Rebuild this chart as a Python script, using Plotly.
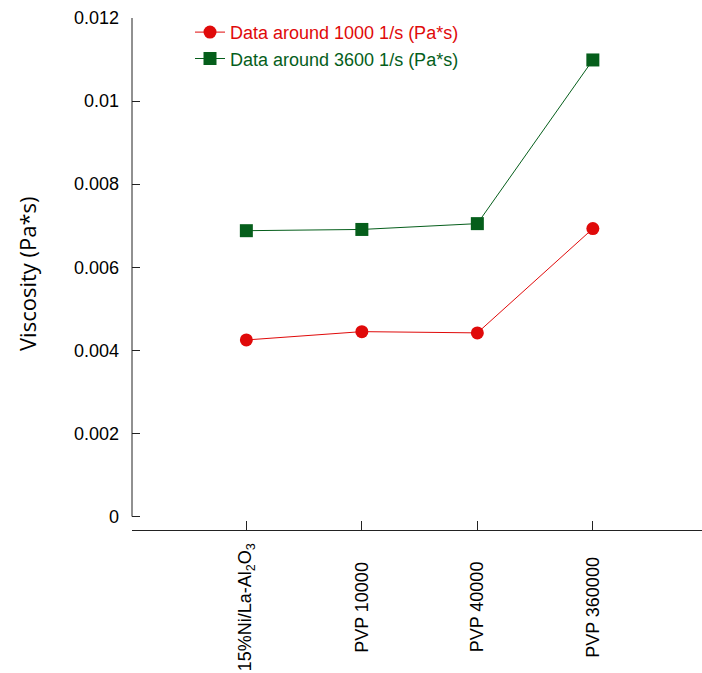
import plotly.graph_objects as go

categories = ["15%Ni/La-Al<sub>2</sub>O<sub>3</sub>", "PVP 10000", "PVP 40000", "PVP 360000"]
x_pos = [0, 1, 2, 3]
visc_1000 = [0.00425, 0.00445, 0.00442, 0.00693]
visc_3600 = [0.00688, 0.00691, 0.00705, 0.01099]
y_ticks = [0, 0.002, 0.004, 0.006, 0.008, 0.01, 0.012]
y_ticktext = ["0", "0.002", "0.004", "0.006", "0.008", "0.01", "0.012"]

RED = "#e00a0a"
GREEN = "#055e1b"
FONT = "Liberation Sans, Arial, sans-serif"

fig = go.Figure()
fig.add_trace(go.Scatter(
    x=x_pos, y=visc_1000, mode="lines+markers",
    name=f'<span style="color:{RED}">Data around 1000 1/s (Pa*s)</span>',
    line=dict(color=RED, width=1),
    marker=dict(symbol="circle", size=13, color=RED),
))
fig.add_trace(go.Scatter(
    x=x_pos, y=visc_3600, mode="lines+markers",
    name=f'<span style="color:{GREEN}">Data around 3600 1/s (Pa*s)</span>',
    line=dict(color=GREEN, width=1),
    marker=dict(symbol="square", size=13, color=GREEN),
))

# category labels, rotated and centred below the axis
for xp, lab in zip(x_pos, categories):
    fig.add_annotation(x=xp, xref="x", y=-0.1504, yref="paper", text=lab,
                       textangle=-90, showarrow=False, xanchor="center", yanchor="middle",
                       font=dict(family=FONT, size=18, color="black"))

# y-axis title
fig.add_annotation(x=(27 - 132) / 570, xref="paper", y=0.50, yref="paper",
                   text="Viscosity (Pa*s)", textangle=-90, showarrow=False,
                   xanchor="center", yanchor="middle",
                   font=dict(family="Open Sans, sans-serif", size=22, color="black"))

# y-axis line from 0 to top only
fig.add_shape(type="line", xref="paper", x0=0, x1=0, yref="y", y0=0, y1=0.012,
              line=dict(color="#222222", width=1))

fig.update_layout(
    width=702, height=673,
    margin=dict(l=132, r=0, t=18, b=143),
    paper_bgcolor="white", plot_bgcolor="white",
    font=dict(family=FONT, size=18, color="black"),
    showlegend=True,
    legend=dict(x=(190 - 132) / 570, y=1.008, xanchor="left", yanchor="top",
                bgcolor="rgba(0,0,0,0)", font=dict(family=FONT, size=18),
                tracegroupgap=0),
    xaxis=dict(range=[-0.99, 3.945], tickvals=[-0.99] + x_pos, showticklabels=False,
               ticks="inside", ticklen=9, tickcolor="#222222", showline=True,
               linecolor="#222222", linewidth=1, showgrid=False, zeroline=False),
    yaxis=dict(range=[-0.000325, 0.012], tickvals=y_ticks, ticktext=y_ticktext,
               ticks="inside", ticklen=8, tickcolor="#222222", showline=False,
               showgrid=False, zeroline=False, ticklabelstandoff=12,
               tickfont=dict(family=FONT, size=18, color="black")),
)

fig.write_html("out.html")
